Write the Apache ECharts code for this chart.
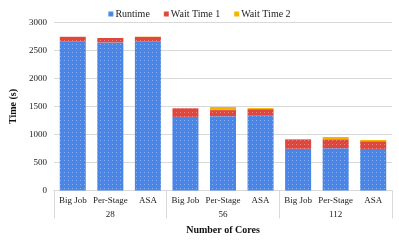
<!DOCTYPE html>
<html><head><meta charset="utf-8">
<script src="https://cdn.jsdelivr.net/npm/echarts@6/dist/echarts.min.js"></script>
<style>html,body{margin:0;padding:0;background:#fff}#c{width:399px;height:251px}</style>
</head><body><div id="c"></div>
<script>
const methods = ['Big Job','Per-Stage','ASA','Big Job','Per-Stage','ASA','Big Job','Per-Stage','ASA'];
const coreGroups = ['28','56','112'];
const runtime = [2665, 2645, 2665, 1315, 1328, 1335, 745, 755, 742];
const waitTime1 = [80, 78, 78, 153, 108, 118, 168, 160, 138];
const waitTime2 = [0, 0, 4, 0, 55, 18, 0, 40, 22];
const yTicks = [0, 500, 1000, 1500, 2000, 2500, 3000];

const font = "'Liberation Serif', 'Times New Roman', serif";
const decal = {symbol:'rect', symbolSize:1, dashArrayX:[1,3], dashArrayY:[1,3], color:'rgba(255,255,255,0.35)'};
const chart = echarts.init(document.getElementById('c'), null, {renderer:'canvas'});
chart.setOption({
  animation:false,
  textStyle:{fontFamily:font},
  legend:{top:4, left:'center', icon:'rect', itemWidth:5, itemHeight:5, itemGap:14,
    textStyle:{fontFamily:font, fontSize:10, color:'#222', padding:[0,0,0,-3]},
    data:['Runtime','Wait Time 1','Wait Time 2']},
  grid:{left:46, right:7, top:22.5, bottom:60.5},
  xAxis:[{
    type:'category', data:methods, position:'bottom',
    axisLine:{lineStyle:{color:'#d9d9d9'}},
    axisTick:{show:false},
    axisLabel:{fontFamily:font, fontSize:9, color:'#222', margin:6, interval:0}
  },{
    type:'category', data:coreGroups, position:'bottom',
    axisLine:{show:false},
    axisTick:{show:true, length:28, lineStyle:{color:'#d9d9d9'}},
    axisLabel:{fontFamily:font, fontSize:9, color:'#222', margin:20},
    name:'Number of Cores', nameLocation:'middle', nameGap:35,
    nameTextStyle:{fontFamily:font, fontSize:10, fontWeight:'bold', color:'#111'}
  }],
  yAxis:{type:'value', min:yTicks[0], max:yTicks[yTicks.length-1], interval:500,
    axisLine:{show:false}, axisTick:{show:false},
    splitLine:{lineStyle:{color:'#d9d9d9'}},
    axisLabel:{fontFamily:font, fontSize:9, color:'#222', margin:7, formatter:(v)=>String(v)},
    name:'Time (s)', nameLocation:'middle', nameGap:36,
    nameTextStyle:{fontFamily:font, fontSize:10, fontWeight:'bold', color:'#111'}
  },
  series:[
    {name:'Runtime', type:'bar', stack:'t', data:runtime, barWidth:26, xAxisIndex:0,
      itemStyle:{color:'#4a86e8', decal:decal}},
    {name:'Wait Time 1', type:'bar', stack:'t', data:waitTime1, barWidth:26, xAxisIndex:0,
      itemStyle:{color:'#e0463c', decal:decal}},
    {name:'Wait Time 2', type:'bar', stack:'t', data:waitTime2, barWidth:26, xAxisIndex:0,
      itemStyle:{color:'#f4b400'}}
  ]
});
</script></body></html>
